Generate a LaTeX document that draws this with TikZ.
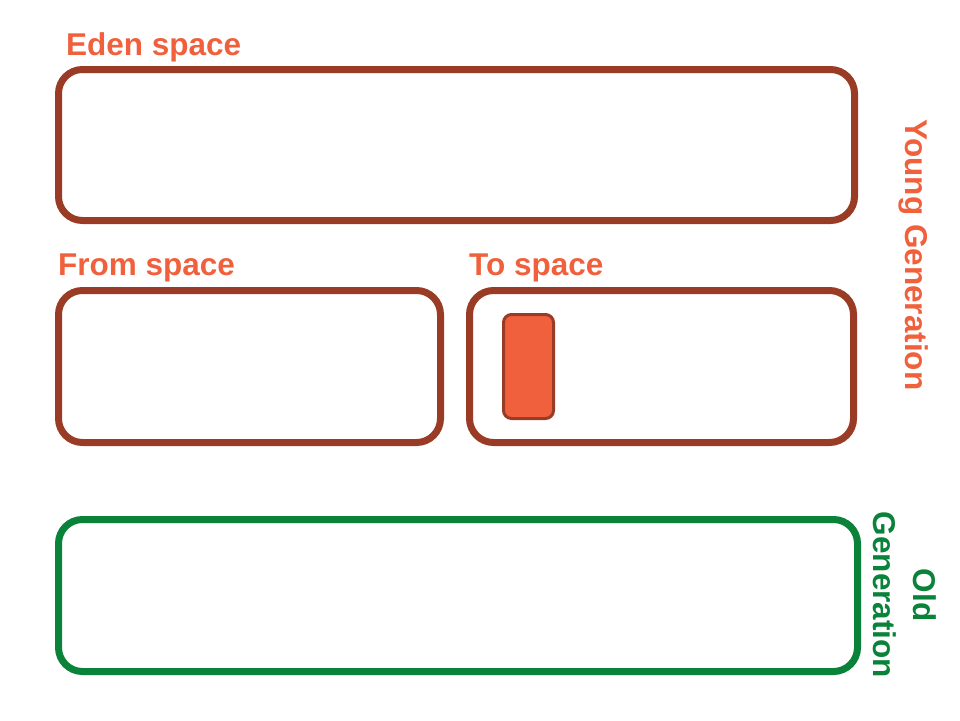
\documentclass[tikz,border=0pt]{standalone}
\usepackage{fontspec}
\setmainfont{Liberation Sans}
\definecolor{boxbrown}{HTML}{9A3B26}
\definecolor{txtorange}{HTML}{F0603C}
\definecolor{oldgreen}{HTML}{0A8239}
\tikzset{
  region/.style={draw=boxbrown, line width=7pt, rounded corners=24pt},
  oldregion/.style={draw=oldgreen, line width=7pt, rounded corners=24pt},
  obj/.style={draw=boxbrown, fill=txtorange, line width=3pt, rounded corners=8pt},
  lbl/.style={text=txtorange, font=\fontsize{31.5}{40}\selectfont\bfseries, inner sep=0pt},
  glbl/.style={text=oldgreen, font=\fontsize{31.5}{40}\selectfont\bfseries, inner sep=0pt, align=center},
}
\begin{document}
\begin{tikzpicture}[x=1pt,y=-1pt]
\useasboundingbox (0,0) rectangle (960,720);
\draw[region] (58.5,69.5) rectangle (854.5,220.5);
\draw[region] (58.5,290.5) rectangle (440.5,442.5);
\draw[region] (469.5,290.5) rectangle (853.5,442.5);
\node[obj, minimum width=50pt, minimum height=104pt, inner sep=0pt] (o1) at (528.5,366.5) {};
\draw[oldregion] (58.5,519.5) rectangle (857.5,671.5);
\node[lbl, anchor=base west] (l1) at (66,55) {Eden space};
\node[lbl, anchor=base west] (l2) at (58,275) {From space};
\node[lbl, anchor=base west] (l3) at (469,275) {To space};
\node[lbl, rotate=-90] (l4) at (914,255) {Young Generation};
\node[glbl, rotate=-90] (l5) at (905,595) {Old\\Generation};
\end{tikzpicture}
\end{document}
